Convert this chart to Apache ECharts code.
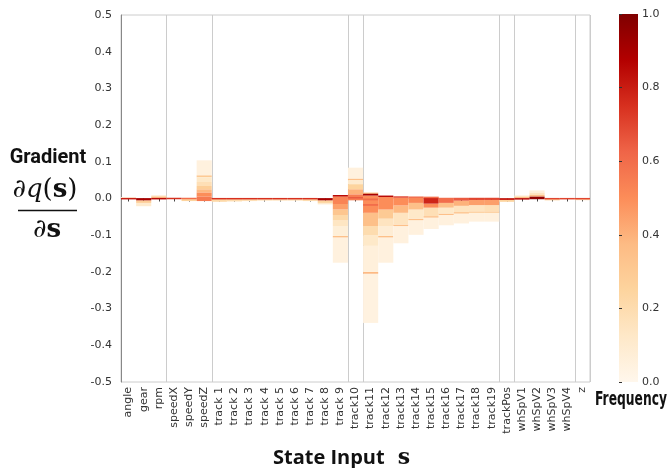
<!DOCTYPE html>
<html><head><meta charset="utf-8">
<script src="https://cdn.jsdelivr.net/npm/echarts@6/dist/echarts.min.js"></script>
<style>html,body{margin:0;padding:0;background:#fff}#c{width:667px;height:468px}</style>
</head><body><div id="c"></div>
<script>
const categories = ['angle','gear','rpm','speedX','speedY','speedZ',
  'track 1','track 2','track 3','track 4','track 5','track 6','track 7','track 8','track 9',
  'track10','track11','track12','track13','track14','track15','track16','track17','track18','track19',
  'trackPos','whSpV1','whSpV2','whSpV3','whSpV4','z'];
// group separators: index of the first category of a new group
const groupStarts = [3, 6, 15, 16, 25, 26, 30];
const gradientTicks = [-0.5, 0.5, 0.1];
const frequencyTicks = [0, 1, 0.2];
const orRd = ['#fff7ec','#fee8c8','#fdd49e','#fdbb84','#fc8d59','#ef6548','#d7301f','#b30000','#7f0000'];

// [category, gradient low, gradient high, frequency]
const engineBins = [
  ['angle', 0, 0.004, 0.08], ['angle', -0.002, 0.001, 0.8],
  ['gear', -0.021, -0.012, 0.1], ['gear', -0.012, -0.005, 0.28], ['gear', -0.005, 0.001, 0.9],
  ['rpm', 0.0045, 0.008, 0.15], ['rpm', 0.001, 0.0045, 0.35], ['rpm', -0.002, 0.001, 0.85]
];
const speedBins = [
  ['speedX', -0.0015, 0.0015, 0.75],
  ['speedY', -0.007, -0.001, 0.25], ['speedY', -0.0015, 0.0015, 0.6],
  ['speedZ', 0.063, 0.104, 0.05], ['speedZ', 0.058, 0.063, 0.3], ['speedZ', 0.045, 0.058, 0.12],
  ['speedZ', 0.034, 0.045, 0.18], ['speedZ', 0.025, 0.034, 0.28], ['speedZ', 0.016, 0.025, 0.38],
  ['speedZ', 0.005, 0.016, 0.5], ['speedZ', -0.007, 0.005, 0.56]
];
const trackBinsA = [
  ['track 1', -0.009, -0.001, 0.22], ['track 1', -0.002, 0.001, 0.75],
  ['track 2', -0.008, -0.001, 0.2], ['track 2', -0.002, 0.001, 0.75],
  ['track 3', -0.007, -0.001, 0.18], ['track 3', -0.002, 0.001, 0.75],
  ['track 4', -0.006, -0.001, 0.15], ['track 4', -0.002, 0.001, 0.75],
  ['track 5', -0.006, -0.001, 0.15], ['track 5', -0.002, 0.001, 0.75],
  ['track 6', -0.006, -0.001, 0.15], ['track 6', -0.002, 0.001, 0.75],
  ['track 7', -0.007, -0.001, 0.2], ['track 7', -0.002, 0.001, 0.75],
  ['track 8', -0.016, -0.012, 0.1], ['track 8', -0.012, -0.005, 0.25], ['track 8', -0.005, 0.001, 0.9],
  ['track 9', -0.175, -0.106, 0.05], ['track 9', -0.106, -0.102, 0.35], ['track 9', -0.102, -0.075, 0.07],
  ['track 9', -0.075, -0.06, 0.14], ['track 9', -0.06, -0.045, 0.22], ['track 9', -0.045, -0.03, 0.32],
  ['track 9', -0.03, -0.015, 0.45], ['track 9', -0.015, 0.006, 0.53], ['track 9', 0.006, 0.009, 0.85],
  ['track10', 0.053, 0.084, 0.05], ['track10', 0.050, 0.053, 0.35], ['track10', 0.039, 0.050, 0.1],
  ['track10', 0.025, 0.039, 0.25], ['track10', 0.011, 0.025, 0.4], ['track10', -0.005, 0.011, 0.55],
  ['track10', 0.0, 0.004, 0.65]
];
const trackBinsB = [
  ['track11', -0.339, -0.205, 0.04], ['track11', -0.205, -0.200, 0.38], ['track11', -0.200, -0.129, 0.06],
  ['track11', -0.129, -0.100, 0.12], ['track11', -0.100, -0.075, 0.2], ['track11', -0.075, -0.039, 0.35],
  ['track11', -0.039, 0.008, 0.5], ['track11', -0.020, -0.015, 0.6], ['track11', -0.005, 0.0, 0.6],
  ['track11', 0.013, 0.0155, 0.3], ['track11', 0.008, 0.013, 0.9],
  ['track12', -0.175, -0.106, 0.05], ['track12', -0.106, -0.102, 0.35], ['track12', -0.102, -0.075, 0.08],
  ['track12', -0.075, -0.055, 0.15], ['track12', -0.055, -0.03, 0.3], ['track12', -0.03, 0.004, 0.5],
  ['track12', 0.004, 0.008, 0.85],
  ['track13', -0.122, -0.075, 0.05], ['track13', -0.075, -0.071, 0.35], ['track13', -0.071, -0.039, 0.15],
  ['track13', -0.039, -0.019, 0.38], ['track13', -0.019, 0.002, 0.5], ['track13', 0.002, 0.006, 0.7],
  ['track14', -0.099, -0.059, 0.05], ['track14', -0.059, -0.055, 0.35], ['track14', -0.055, -0.03, 0.12],
  ['track14', -0.03, -0.012, 0.35], ['track14', -0.012, 0.002, 0.52], ['track14', 0.002, 0.005, 0.6],
  ['track15', -0.083, -0.052, 0.05], ['track15', -0.052, -0.048, 0.35], ['track15', -0.048, -0.025, 0.18],
  ['track15', -0.025, -0.014, 0.5], ['track15', -0.014, 0.002, 0.78], ['track15', 0.002, 0.004, 0.6],
  ['track16', -0.073, -0.045, 0.05], ['track16', -0.045, -0.041, 0.35], ['track16', -0.041, -0.025, 0.12],
  ['track16', -0.025, -0.012, 0.35], ['track16', -0.012, 0.002, 0.6],
  ['track17', -0.068, -0.041, 0.05], ['track17', -0.041, -0.037, 0.33], ['track17', -0.037, -0.02, 0.15],
  ['track17', -0.02, -0.006, 0.4], ['track17', -0.006, 0.002, 0.65],
  ['track18', -0.063, -0.039, 0.05], ['track18', -0.039, -0.035, 0.3], ['track18', -0.035, -0.018, 0.15],
  ['track18', -0.018, -0.004, 0.45], ['track18', -0.004, 0.002, 0.7],
  ['track19', -0.063, -0.039, 0.05], ['track19', -0.039, -0.035, 0.3], ['track19', -0.035, -0.018, 0.18],
  ['track19', -0.018, -0.004, 0.45], ['track19', -0.004, 0.002, 0.7]
];
const otherBins = [
  ['trackPos', -0.009, -0.004, 0.25], ['trackPos', -0.004, 0.001, 0.8],
  ['whSpV1', 0.0035, 0.008, 0.12], ['whSpV1', 0.001, 0.0035, 0.35], ['whSpV1', -0.003, 0.001, 0.85],
  ['whSpV2', 0.016, 0.022, 0.06], ['whSpV2', 0.010, 0.016, 0.15], ['whSpV2', 0.005, 0.010, 0.35], ['whSpV2', -0.002, 0.005, 0.95],
  ['whSpV3', -0.005, -0.001, 0.25], ['whSpV3', -0.002, 0.001, 0.7],
  ['whSpV4', -0.002, 0.001, 0.7],
  ['z', -0.004, -0.001, 0.2], ['z', -0.002, 0.001, 0.7]
];

const bins = [].concat(engineBins, speedBins, trackBinsA, trackBinsB, otherBins);
const fmt1 = v => (Math.abs(v) < 1e-9 ? '0.0' : v.toFixed(1));

const chart = echarts.init(document.getElementById('c'));
chart.setOption({
  animation: false,
  backgroundColor: '#fff',
  grid: [
    { left: 121, right: 77, top: 15, bottom: 86, show: true, borderColor: '#cccccc', borderWidth: 1, outerBoundsMode: 'none', containLabel: false },
    { left: 619, width: 19, top: 14, height: 368, show: false, outerBoundsMode: 'none', containLabel: false }
  ],
  xAxis: [{
    type: 'category', data: categories, gridIndex: 0, boundaryGap: true,
    axisLine: { show: true, lineStyle: { color: '#cccccc' } },
    axisTick: { show: true, alignWithLabel: true, length: 3, lineStyle: { color: '#444' } },
    axisLabel: { rotate: 90, fontSize: 11, color: '#333', margin: 5, fontFamily: 'DejaVu Sans', interval: 0 },
    splitLine: { show: true, interval: (i) => groupStarts.indexOf(i) >= 0, lineStyle: { color: '#cccccc', width: 1 } },
    name: '{a|State Input}{b|s}', nameLocation: 'middle', nameGap: 65,
    nameTextStyle: { padding: [0, 28, 0, 0], rich: {
      a: { fontFamily: 'Open Sans', fontWeight: 'bold', fontSize: 20, color: '#111' },
      b: { fontFamily: 'DejaVu Serif', fontWeight: 'bold', fontSize: 22, color: '#111', padding: [0, 0, 0, 13] }
    } }
  }, { type: 'value', gridIndex: 1, show: false, min: 0, max: 1 }],
  yAxis: [{
    type: 'value', gridIndex: 0, min: gradientTicks[0], max: gradientTicks[1], interval: gradientTicks[2],
    axisLine: { show: true, lineStyle: { color: '#888' } },
    axisTick: { show: false }, splitLine: { show: false },
    axisLabel: { formatter: fmt1, fontSize: 11, color: '#333', margin: 9, fontFamily: 'DejaVu Sans' }
  }, {
    type: 'value', gridIndex: 1, position: 'right', min: frequencyTicks[0], max: frequencyTicks[1], interval: frequencyTicks[2],
    axisLine: { show: false }, splitLine: { show: false },
    axisTick: { show: true, length: 3, lineStyle: { color: '#333' } },
    axisLabel: { formatter: fmt1, fontSize: 11, color: '#333', margin: 4, fontFamily: 'DejaVu Sans' }
  }],
  visualMap: {
    type: 'continuous', min: 0, max: 1, seriesIndex: 0, dimension: 3, show: false,
    inRange: { color: orRd }
  },
  series: [{
    type: 'custom', xAxisIndex: 0, yAxisIndex: 0,
    encode: { x: 0, y: [1, 2] },
    data: bins,
    renderItem: function (params, api) {
      const xi = api.value(0);
      const top = api.coord([xi, api.value(2)]);
      const bot = api.coord([xi, api.value(1)]);
      const bw = api.size([1, 0])[0];
      const x0 = top[0] - bw / 2, x1 = top[0] + bw / 2;
      let y0 = top[1], y1 = bot[1];
      if (y1 - y0 < 1.5) { const m = (y0 + y1) / 2; y0 = m - 0.75; y1 = m + 0.75; }
      return { type: 'rect', shape: { x: x0, y: y0, width: x1 - x0, height: y1 - y0 },
        style: { fill: api.visual('color') } };
    }
  }],
  graphic: [
    { type: 'rect', shape: { x: 619, y: 14, width: 19, height: 368 },
      style: { fill: new echarts.graphic.LinearGradient(0, 1, 0, 0,
        orRd.map((c, i) => ({ offset: i / (orRd.length - 1), color: c }))) } },
    { type: 'text', x: 48, y: 158, style: { text: 'Gradient', fontFamily: 'Roboto', fontWeight: 'bold', fontSize: 20, fill: '#111', align: 'center', verticalAlign: 'middle' } },
    { type: 'text', x: 45, y: 190, style: { text: '{i|∂q}{r|(}{b|s}{r|)}', align: 'center', verticalAlign: 'middle',
      rich: { i: { fontFamily: 'DejaVu Serif', fontStyle: 'italic', fontSize: 26, fill: '#111' },
              r: { fontFamily: 'DejaVu Serif', fontSize: 26, fill: '#111' },
              b: { fontFamily: 'DejaVu Serif', fontWeight: 'bold', fontSize: 26, fill: '#111' } } } },
    { type: 'line', shape: { x1: 18, y1: 210.5, x2: 77, y2: 210.5 }, style: { stroke: '#111', lineWidth: 1.6 } },
    { type: 'text', x: 47, y: 230, style: { text: '{i|∂}{b|s}', align: 'center', verticalAlign: 'middle',
      rich: { i: { fontFamily: 'DejaVu Serif', fontStyle: 'italic', fontSize: 26, fill: '#111' },
              b: { fontFamily: 'DejaVu Serif', fontWeight: 'bold', fontSize: 26, fill: '#111' } } } },
    { type: 'text', x: 631, y: 400, scaleX: 0.72, style: { text: 'Frequency', fontFamily: "'DejaVu Sans Condensed', Roboto, sans-serif", fontWeight: 'bold', fontSize: 19, fill: '#111', align: 'center', verticalAlign: 'middle' } }
  ]
});
</script></body></html>
